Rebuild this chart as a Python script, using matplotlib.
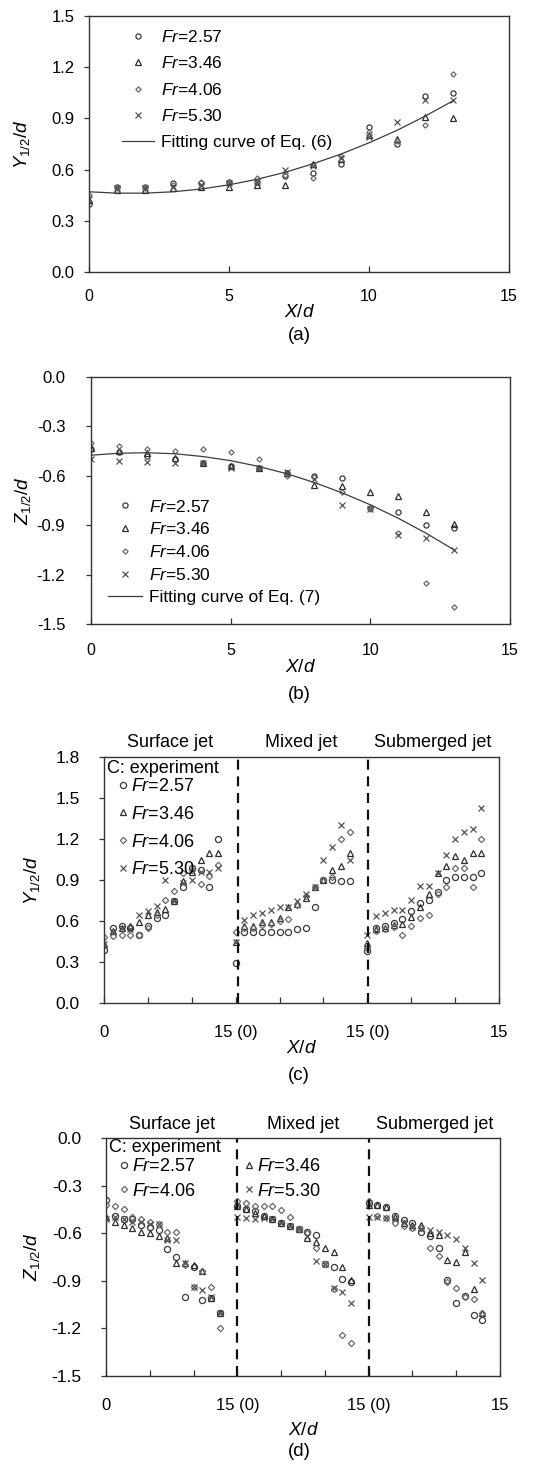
import matplotlib
matplotlib.use('Agg')
import matplotlib.pyplot as plt
from matplotlib.lines import Line2D
import matplotlib.transforms as mtrans

plt.rcParams['font.family'] = ['Liberation Sans', 'DejaVu Sans']
plt.rcParams['mathtext.fontset'] = 'custom'
plt.rcParams['mathtext.rm'] = 'Liberation Sans'
plt.rcParams['mathtext.it'] = 'Liberation Sans:italic'
plt.rcParams['mathtext.bf'] = 'Liberation Sans:bold'
plt.rcParams['axes.unicode_minus'] = False

# ---------------- data ----------------
FR_LABELS = ['2.57', '3.46', '4.06', '5.30']
X_POS = [0, 1, 2, 3, 4, 5, 6, 7, 8, 9, 10, 11, 12, 13]
SEG_OFFSETS = [0, 15, 30]
SEG_NAMES = ['Surface jet', 'Mixed jet', 'Submerged jet']

# (a) Y1/2/d
a_fr257 = [0.40, 0.50, 0.50, 0.52, 0.52, 0.53, 0.53, 0.56, 0.58, 0.63, 0.85, 0.75, 1.03, 1.05]
a_fr346 = [0.42, 0.48, 0.48, 0.49, 0.50, 0.50, 0.51, 0.51, 0.63, 0.66, 0.80, 0.78, 0.91, 0.90]
a_fr406 = [0.45, 0.49, 0.49, 0.51, 0.53, 0.52, 0.55, 0.57, 0.55, 0.68, 0.82, 0.77, 0.86, 1.16]
a_fr530 = [0.43, 0.49, 0.49, 0.50, 0.51, 0.52, 0.53, 0.60, 0.62, 0.67, 0.79, 0.88, 1.01, 1.01]
a_fit = [0.470, 0.462, 0.462, 0.470, 0.486, 0.511, 0.543, 0.584, 0.634, 0.691, 0.757, 0.830, 0.913, 1.003]

# (b) Z1/2/d
b_fr257 = [-0.44, -0.454, -0.48, -0.495, -0.52, -0.54, -0.555, -0.58, -0.60, -0.616, -0.797, -0.82, -0.90, -0.92]
b_fr346 = [-0.434, -0.45, -0.464, -0.49, -0.52, -0.54, -0.555, -0.58, -0.654, -0.66, -0.70, -0.72, -0.82, -0.894]
b_fr406 = [-0.40, -0.42, -0.436, -0.45, -0.436, -0.458, -0.497, -0.60, -0.61, -0.696, -0.80, -0.95, -1.25, -1.397]
b_fr530 = [-0.495, -0.509, -0.515, -0.52, -0.52, -0.55, -0.555, -0.575, -0.62, -0.78, -0.80, -0.96, -0.975, -1.05]
b_fit = [-0.475, -0.463, -0.460, -0.466, -0.483, -0.508, -0.543, -0.587, -0.641, -0.704, -0.776, -0.858, -0.949, -1.050]

# (c) Y1/2/d : surface / mixed / submerged
c_surf_fr257 = [0.39, 0.547, 0.56, 0.55, 0.50, 0.56, 0.62, 0.645, 0.75, 0.85, 0.985, 0.973, 0.85, 1.197]
c_surf_fr346 = [0.43, 0.53, 0.55, 0.56, 0.596, 0.645, 0.664, 0.686, 0.75, 0.893, 0.96, 1.046, 1.095, 1.095]
c_surf_fr406 = [0.48, 0.487, 0.50, 0.50, 0.50, 0.547, 0.645, 0.754, 0.817, 0.95, 0.973, 0.87, 0.93, 1.01]
c_surf_fr530 = [0.43, 0.52, 0.55, 0.54, 0.645, 0.676, 0.71, 0.90, 0.75, 0.875, 0.90, 0.96, 0.96, 0.985]
c_mix_fr257 = [0.29, 0.52, 0.52, 0.52, 0.52, 0.52, 0.52, 0.54, 0.547, 0.70, 0.90, 0.90, 0.895, 0.895]
c_mix_fr346 = [0.45, 0.56, 0.56, 0.59, 0.596, 0.62, 0.70, 0.725, 0.77, 0.85, 0.90, 0.973, 1.00, 1.095]
c_mix_fr406 = [0.52, 0.55, 0.55, 0.57, 0.58, 0.60, 0.615, 0.72, 0.78, 0.85, 0.90, 0.92, 1.197, 1.25]
c_mix_fr530 = [0.45, 0.61, 0.645, 0.66, 0.68, 0.70, 0.70, 0.75, 0.80, 0.85, 1.046, 1.14, 1.30, 1.046]
c_sub_fr257 = [0.38, 0.547, 0.564, 0.584, 0.613, 0.676, 0.735, 0.754, 0.815, 0.90, 0.92, 0.92, 0.92, 0.95]
c_sub_fr346 = [0.44, 0.54, 0.55, 0.57, 0.58, 0.632, 0.70, 0.795, 0.95, 1.00, 1.075, 1.05, 1.095, 1.095]
c_sub_fr406 = [0.40, 0.53, 0.54, 0.555, 0.50, 0.564, 0.625, 0.645, 0.80, 0.85, 0.985, 0.985, 0.85, 1.197]
c_sub_fr530 = [0.50, 0.637, 0.657, 0.68, 0.68, 0.754, 0.856, 0.856, 0.954, 1.08, 1.20, 1.25, 1.27, 1.43]

# (d) Z1/2/d : surface / mixed / submerged
d_surf_fr257 = [-0.39, -0.49, -0.51, -0.51, -0.55, -0.56, -0.58, -0.70, -0.75, -1.00, -0.81, -1.02, -1.01, -1.10]
d_surf_fr346 = [-0.50, -0.53, -0.55, -0.57, -0.59, -0.60, -0.62, -0.63, -0.79, -0.79, -0.80, -0.84, -1.01, -1.10]
d_surf_fr406 = [-0.42, -0.43, -0.45, -0.50, -0.51, -0.53, -0.54, -0.59, -0.59, -0.80, -0.94, -0.84, -0.94, -1.20]
d_surf_fr530 = [-0.51, -0.50, -0.51, -0.53, -0.53, -0.54, -0.54, -0.64, -0.64, -0.79, -0.94, -0.96, -1.00, -1.10]
d_mix_fr257 = [-0.43, -0.449, -0.463, -0.49, -0.512, -0.533, -0.552, -0.575, -0.59, -0.61, -0.794, -0.81, -0.89, -0.91]
d_mix_fr346 = [-0.43, -0.45, -0.474, -0.49, -0.512, -0.533, -0.552, -0.575, -0.632, -0.653, -0.695, -0.716, -0.81, -0.895]
d_mix_fr406 = [-0.394, -0.41, -0.428, -0.43, -0.428, -0.453, -0.495, -0.575, -0.60, -0.695, -0.794, -0.95, -1.243, -1.295]
d_mix_fr530 = [-0.495, -0.506, -0.512, -0.506, -0.512, -0.533, -0.552, -0.575, -0.62, -0.775, -0.794, -0.948, -0.973, -1.043]
d_sub_fr257 = [-0.41, -0.425, -0.438, -0.49, -0.516, -0.537, -0.59, -0.62, -0.695, -0.895, -1.043, -0.996, -1.117, -1.148]
d_sub_fr346 = [-0.42, -0.425, -0.438, -0.495, -0.533, -0.548, -0.548, -0.60, -0.61, -0.77, -0.78, -0.716, -0.954, -1.10]
d_sub_fr406 = [-0.394, -0.49, -0.506, -0.537, -0.554, -0.569, -0.569, -0.695, -0.744, -0.91, -0.944, -1.005, -1.015, -1.10]
d_sub_fr530 = [-0.50, -0.495, -0.506, -0.51, -0.53, -0.558, -0.575, -0.58, -0.59, -0.61, -0.638, -0.695, -0.79, -0.895]

# ---------------- styles ----------------
MARKERS = ['o', '^', 'D', 'x']
COLORS = ['#3a3a3a', '#2e2e2e', '#6a6a6a', '#555555']
MS_AB = [3.7, 3.7, 2.7, 3.7]
MS_CD = [4.4, 4.4, 3.2, 4.8]
SPINE = '#333333'


def fr_label(v):
    return r'$\mathit{Fr}$=' + v


def style_axes(ax, ypad, xpad):
    for s in ax.spines.values():
        s.set_color(SPINE)
        s.set_linewidth(1.0)
    ax.tick_params(axis='y', direction='out', length=3.5, width=0.9, color=SPINE, pad=ypad)
    ax.tick_params(axis='x', which='both', direction='in', length=4, width=0.9, color=SPINE, pad=xpad)


def plot_series(ax, xs, ys, i, ms):
    ax.plot(xs, ys, linestyle='none', marker=MARKERS[i], ms=ms, mfc='none',
            mec=COLORS[i], mew=0.9)


def handles(idx, ms):
    return [Line2D([], [], linestyle='none', marker=MARKERS[i], ms=ms[i], mfc='none',
                   mec=COLORS[i], mew=0.9) for i in idx]


fig = plt.figure(figsize=(5.40, 14.64), dpi=100)
W, H = 540.0, 1464.0


def add_ax(l, r, t, b):
    return fig.add_axes([l / W, 1 - b / H, (r - l) / W, (b - t) / H])


ylab_Y = r'$\mathit{Y}_{\mathrm{1/2}}\mathit{/d}$'
ylab_Z = r'$\mathit{Z}_{\mathrm{1/2}}\mathit{/d}$'
xlab = r'$\mathit{X/d}$'
LABFS = 13.5

# ---------- (a) ----------
ax = add_ax(89, 509, 16, 272)
for i, ys in enumerate([a_fr257, a_fr346, a_fr406, a_fr530]):
    plot_series(ax, X_POS, ys, i, MS_AB[i])
ax.plot(X_POS, a_fit, color='#3c3c3c', lw=0.9)
ax.set_xlim(0, 15)
ax.set_ylim(0, 1.5)
ax.set_xticks([0, 5, 10, 15])
ax.set_yticks([0, 0.3, 0.6, 0.9, 1.2, 1.5])
ax.set_yticklabels(['%.1f' % v for v in [0, 0.3, 0.6, 0.9, 1.2, 1.5]])
style_axes(ax, 7, 12)
ax.tick_params(axis='y', labelsize=12)
ax.tick_params(axis='x', labelsize=11.5)
ax.set_ylabel(ylab_Y, fontsize=LABFS)
ax.yaxis.set_label_coords(-0.136, 0.5)
ax.set_xlabel(xlab, fontsize=LABFS)
ax.xaxis.set_label_coords(0.5, -0.125)
hs = handles(range(4), MS_AB) + [Line2D([], [], color='#3c3c3c', lw=0.9)]
lbs = [fr_label(v) for v in FR_LABELS] + ['Fitting curve of Eq. (6)']
ax.legend(hs, lbs, loc='upper left', bbox_to_anchor=(0.078, 0.95), frameon=False,
          fontsize=12.5, handlelength=1.85, handletextpad=0.4, labelspacing=0.6,
          borderpad=0, borderaxespad=0)
fig.text(299 / W, 1 - 336 / H, '(a)', ha='center', va='center', fontsize=LABFS)

# ---------- (b) ----------
ax = add_ax(91, 510, 377, 624)
for i, ys in enumerate([b_fr257, b_fr346, b_fr406, b_fr530]):
    plot_series(ax, X_POS, ys, i, MS_AB[i])
ax.plot(X_POS, b_fit, color='#3c3c3c', lw=0.9)
ax.set_xlim(0, 15)
ax.set_ylim(-1.5, 0)
ax.set_xticks([0, 5, 10, 15])
yt = [-1.5, -1.2, -0.9, -0.6, -0.3, 0.0]
ax.set_yticks(yt)
ax.set_yticklabels(['%.1f' % v if v != 0 else '0.0' for v in yt])
style_axes(ax, 15, 14)
ax.tick_params(axis='y', labelsize=12)
ax.tick_params(axis='x', labelsize=11.5)
ax.set_ylabel(ylab_Z, fontsize=LABFS)
ax.yaxis.set_label_coords(-0.138, 0.5)
ax.set_xlabel(xlab, fontsize=LABFS)
ax.xaxis.set_label_coords(0.5, -0.143)
hs = handles(range(4), MS_AB) + [Line2D([], [], color='#3c3c3c', lw=0.9)]
lbs = [fr_label(v) for v in FR_LABELS] + ['Fitting curve of Eq. (7)']
ax.legend(hs, lbs, loc='lower left', bbox_to_anchor=(0.04, 0.075), frameon=False,
          fontsize=12.5, handlelength=2.0, handletextpad=0.4, labelspacing=0.4,
          borderpad=0, borderaxespad=0)
fig.text(299 / W, 1 - 695 / H, '(b)', ha='center', va='center', fontsize=LABFS)


# ---------- (c), (d) shared ----------
def seg_panel(ax, segs, ylim, yt, dash_x):
    for off, series in zip(SEG_OFFSETS, segs):
        for i, ys in enumerate(series):
            plot_series(ax, [x + off for x in X_POS], ys, i, MS_CD[i])
    for dx in dash_x:
        ax.axvline(dx, color='#111111', lw=1.6, ls=(0, (4.5, 3)))
    ax.set_xlim(0, 45)
    ax.set_ylim(*ylim)
    ax.set_xticks([0, 15, 30, 45])
    ax.set_xticklabels(['0', '15 (0)', '15 (0)', '15'])
    ax.set_xticks([5, 10, 20, 25, 35, 40], minor=True)
    ax.set_yticks(yt)
    ax.set_yticklabels(['%.1f' % v if abs(v) > 1e-9 else '0.0' for v in yt])
    style_axes(ax, 14, 16)
    ax.tick_params(axis='y', labelsize=12.5)
    ax.tick_params(axis='x', labelsize=12)
    trans = mtrans.blended_transform_factory(ax.transData, ax.transAxes)
    for off, name in zip(SEG_OFFSETS, SEG_NAMES):
        ax.text(off + 7.5, 1.058, name, transform=trans, ha='center', va='center', fontsize=13)


ax = add_ax(104, 499, 757, 1003)
seg_panel(ax,
          [[c_surf_fr257, c_surf_fr346, c_surf_fr406, c_surf_fr530],
           [c_mix_fr257, c_mix_fr346, c_mix_fr406, c_mix_fr530],
           [c_sub_fr257, c_sub_fr346, c_sub_fr406, c_sub_fr530]],
          (0, 1.8), [0, 0.3, 0.6, 0.9, 1.2, 1.5, 1.8], [15.3, 30.1])
ax.set_ylabel(ylab_Y, fontsize=LABFS)
ax.yaxis.set_label_coords(-0.157, 0.5)
ax.set_xlabel(xlab, fontsize=LABFS)
ax.xaxis.set_label_coords(0.5, -0.15)
ax.text(0.008, 0.955, 'C: experiment', transform=ax.transAxes, ha='left', va='center', fontsize=13)
ax.legend(handles(range(4), MS_CD), [fr_label(v) for v in FR_LABELS], loc='upper left',
          bbox_to_anchor=(0.033, 0.915), frameon=False, fontsize=13, handlelength=0.7,
          handletextpad=0.05, labelspacing=0.6, borderpad=0, borderaxespad=0)
fig.text(299 / W, 1 - 1075 / H, '(c)', ha='center', va='center', fontsize=LABFS)

ax = add_ax(106, 500, 1138, 1376)
seg_panel(ax,
          [[d_surf_fr257, d_surf_fr346, d_surf_fr406, d_surf_fr530],
           [d_mix_fr257, d_mix_fr346, d_mix_fr406, d_mix_fr530],
           [d_sub_fr257, d_sub_fr346, d_sub_fr406, d_sub_fr530]],
          (-1.5, 0), [-1.5, -1.2, -0.9, -0.6, -0.3, 0.0], [15.0, 30.0])
ax.set_ylabel(ylab_Z, fontsize=LABFS)
ax.yaxis.set_label_coords(-0.162, 0.5)
ax.set_xlabel(xlab, fontsize=LABFS)
ax.xaxis.set_label_coords(0.5, -0.193)
ax.text(0.008, 0.96, 'C: experiment', transform=ax.transAxes, ha='left', va='center', fontsize=13)
leg1 = ax.legend(handles([0, 2], MS_CD), [fr_label(FR_LABELS[0]), fr_label(FR_LABELS[2])],
                 loc='upper left', bbox_to_anchor=(0.03, 0.915), frameon=False, fontsize=13,
                 handlelength=0.7, handletextpad=0.1, labelspacing=0.42, borderpad=0, borderaxespad=0)
ax.add_artist(leg1)
ax.legend(handles([1, 3], MS_CD), [fr_label(FR_LABELS[1]), fr_label(FR_LABELS[3])],
          loc='upper left', bbox_to_anchor=(0.347, 0.915), frameon=False, fontsize=13,
          handlelength=0.7, handletextpad=0.1, labelspacing=0.42, borderpad=0, borderaxespad=0)
fig.text(299 / W, 1 - 1452 / H, '(d)', ha='center', va='center', fontsize=LABFS)

fig.savefig('out.png', dpi=100)
